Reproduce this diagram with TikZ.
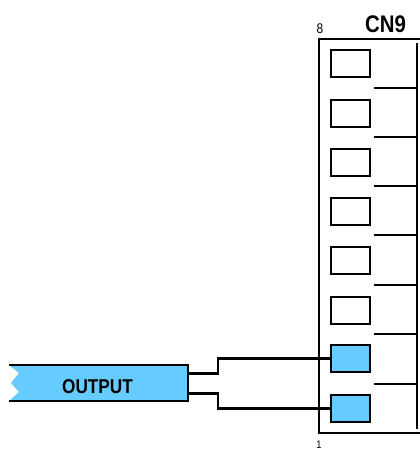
\documentclass[tikz,border=0pt]{standalone}
\usepackage{fontspec}
\setmainfont{Liberation Sans}
\definecolor{sigblue}{HTML}{66CCFF}
\tikzset{
  pin/.style={draw=black,line width=1.8pt,minimum width=39pt,minimum height=27pt,inner sep=0pt,outer sep=0pt},
  pinfree/.style={pin,fill=white},
  pinused/.style={pin,fill=sigblue},
  tick/.style={draw=black,line width=1.7pt},
  wire/.style={draw=black,line width=2.4pt},
  frameline/.style={draw=black,line width=1.7pt},
  label/.style={inner sep=0pt,text=black}
}
\begin{document}
\begin{tikzpicture}[x=1pt,y=-1pt]
\useasboundingbox (0,0) rectangle (420,450);
% connector frame
\draw[frameline] (421,39) -- (319,39) -- (319,433) -- (421,433);
\draw[frameline] (417,43) -- (417,429);
% pins
\node[pinfree] (p8) at (350.5,63.5) {};
\node[pinfree] (p7) at (350.5,113.5) {};
\node[pinfree] (p6) at (350.5,162.5) {};
\node[pinfree] (p5) at (350.5,211.5) {};
\node[pinfree] (p4) at (350.5,260.5) {};
\node[pinfree] (p3) at (350.5,310.5) {};
\node[pinused] (p2) at (350.5,358.5) {};
\node[pinused] (p1) at (350.5,408.5) {};
% dividers
\foreach \y in {88,137,186,235,285,334,384}
  \draw[tick] (374,\y) -- (417,\y);
% banner
\path[fill=sigblue] (9,365) -- (188,365) -- (188,401) -- (9,401) -- (19,392) -- (11,383) -- (19,373) -- cycle;
\draw[frameline] (9,365) -- (188,365) -- (188,401) -- (9,401);
\coordinate (bu) at (188,373.5);
\coordinate (bl) at (188,393.5);
\draw[wire] (bu) -- (218,373.5) |- (p2.west);
\draw[wire] (bl) -- (218,393.5) |- (p1.west);
% labels
\node[label] (out) at (97.5,387) {\fontsize{20}{20}\selectfont\bfseries\scalebox{0.86}[1]{OUTPUT}};
\node[label] (cn) at (385.5,24) {\fontsize{24}{24}\selectfont\bfseries\scalebox{0.85}[1]{CN9}};
\node[label] (n8) at (320,29) {\fontsize{14}{14}\selectfont\scalebox{0.85}[1]{8}};
\node[label] (n1) at (319,445) {\fontsize{11}{11}\selectfont\scalebox{0.85}[1]{1}};
\end{tikzpicture}
\end{document}
